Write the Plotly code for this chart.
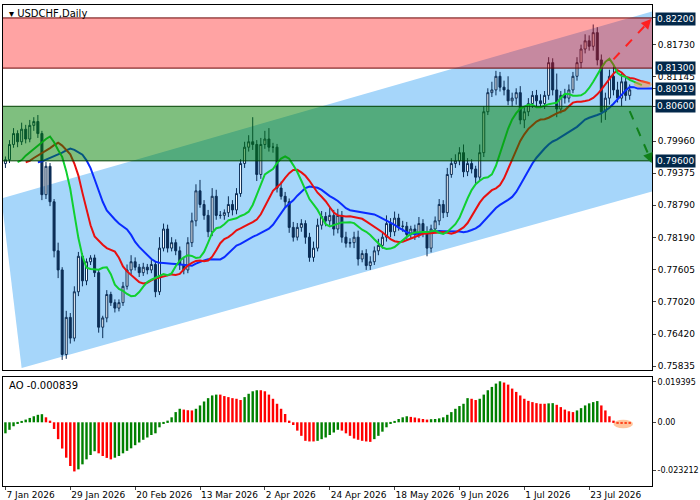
import plotly.graph_objects as go
from plotly.subplots import make_subplots

# USDCHF daily
closes = [
    0.7962, 0.7990, 0.8010, 0.7995, 0.8018, 0.8000, 0.8025, 0.8032, 0.8010, 0.7898,
    0.7950, 0.7885, 0.7795, 0.7760, 0.7605, 0.7673, 0.7635, 0.7720, 0.7785, 0.7740,
    0.7775, 0.7782, 0.7755, 0.7655, 0.7672, 0.7715, 0.7700, 0.7690, 0.7700, 0.7730,
    0.7760, 0.7775, 0.7765, 0.7755, 0.7765, 0.7760, 0.7770, 0.7720, 0.7800, 0.7835,
    0.7800, 0.7810, 0.7795, 0.7770, 0.7760, 0.7810, 0.7850, 0.7905, 0.7880, 0.7860,
    0.7830, 0.7895, 0.7860, 0.7860, 0.7865, 0.7880, 0.7870, 0.7900, 0.7955, 0.7985,
    0.7995, 0.7990, 0.7935, 0.7990, 0.8000, 0.7985, 0.7985, 0.7910, 0.7895, 0.7885,
    0.7838, 0.7820, 0.7838, 0.7845, 0.7820, 0.7783, 0.7800, 0.7842, 0.7858, 0.7850,
    0.7860, 0.7835, 0.7860, 0.7820, 0.7809, 0.7810, 0.7820, 0.7780, 0.7790, 0.7768,
    0.7775, 0.7795, 0.7805, 0.7820, 0.7845, 0.7830, 0.7855, 0.7840, 0.7840, 0.7825,
    0.7835, 0.7825, 0.7845, 0.7830, 0.7800, 0.7835, 0.7850, 0.7880, 0.7865, 0.7935,
    0.7955, 0.7960, 0.7975, 0.7940, 0.7955, 0.7945, 0.7930, 0.7975, 0.8050, 0.8085,
    0.8090, 0.8115, 0.8095, 0.8090, 0.8070, 0.8075, 0.8085, 0.8035, 0.8050, 0.8065,
    0.8080, 0.8070, 0.8065, 0.8080, 0.8140, 0.8090, 0.8055, 0.8080, 0.8075, 0.8090,
    0.8115, 0.8140, 0.8165, 0.8180, 0.8170, 0.8195, 0.8145, 0.8050, 0.8075, 0.8115,
    0.8090, 0.8075, 0.8105, 0.8080, 0.8090,
]
first_open = 0.7955
# wick lengths above / below the body, in 1e-4
wick_up = [
    6, 8, 10, 6, 12, 8, 10, 8, 12, 5, 8, 6, 5, 15, 5, 12, 8, 10, 8, 6,
    6, 5, 6, 5, 4, 8, 5, 6, 6, 8, 10, 12, 8, 6, 8, 6, 8, 5, 20, 10,
    8, 10, 6, 8, 12, 10, 15, 12, 20, 8, 10, 15, 12, 8, 6, 15, 8, 10, 8, 10,
    12, 45, 8, 12, 15, 20, 8, 6, 12, 8, 6, 10, 8, 8, 6, 8, 12, 12, 10, 8,
    15, 10, 12, 8, 10, 8, 10, 12, 6, 8, 10, 8, 12, 8, 15, 10, 12, 8, 10, 8,
    6, 8, 12, 8, 10, 8, 8, 10, 8, 12, 10, 12, 10, 15, 10, 8, 6, 15, 10, 8,
    15, 10, 8, 12, 25, 10, 8, 12, 10, 10, 8, 10, 12, 8, 10, 8, 30, 8, 12, 10,
    8, 10, 8, 12, 10, 15, 10, 10, 10, 12, 18, 15, 15, 8, 10,
]
wick_dn = [
    8, 6, 6, 10, 6, 8, 6, 10, 8, 10, 8, 8, 12, 15, 10, 8, 10, 6, 8, 10,
    8, 6, 8, 10, 20, 8, 6, 8, 6, 6, 6, 8, 6, 8, 6, 8, 6, 10, 6, 6,
    8, 6, 8, 10, 8, 6, 8, 10, 6, 8, 10, 8, 8, 6, 8, 8, 10, 8, 6, 8,
    8, 10, 12, 8, 8, 8, 10, 8, 6, 10, 10, 8, 6, 8, 12, 8, 8, 6, 8, 10,
    8, 12, 8, 10, 8, 8, 10, 12, 6, 8, 8, 6, 8, 6, 8, 10, 8, 8, 10, 8,
    8, 10, 6, 10, 15, 8, 6, 8, 10, 8, 6, 8, 8, 10, 8, 8, 12, 6, 8, 6,
    8, 10, 8, 10, 8, 10, 12, 8, 15, 8, 8, 10, 8, 10, 8, 10, 15, 8, 10, 8,
    6, 8, 10, 8, 8, 8, 10, 20, 15, 12, 10, 8, 15, 10, 8,
]
# Awesome Oscillator, in 1e-4
ao = [
    -53, -36, -19, -8, 5, 13, 21, 29, 36, 39,
    24, 8, -32, -81, -126, -170, -210, -236, -226, -202,
    -178, -157, -139, -149, -162, -171, -178, -170, -162, -149,
    -137, -125, -110, -97, -84, -73, -61, -53, -24, -8,
    8, 24, 49, 65, 61, 58, 57, 65, 81, 100,
    116, 129, 133, 133, 126, 121, 116, 113, 107, 121,
    137, 149, 154, 154, 149, 133, 113, 89, 65, 40,
    8, -13, -40, -65, -89, -92, -92, -89, -81, -73,
    -61, -49, -36, -40, -53, -65, -78, -84, -89, -92,
    -94, -81, -65, -45, -24, -8, 3, 16, 24, 29,
    26, 23, 19, 16, 13, 15, 16, 19, 24, 36,
    49, 65, 78, 89, 116, 113, 107, 113, 133, 154,
    170, 186, 197, 191, 181, 162, 146, 129, 113, 103,
    97, 92, 89, 89, 91, 92, 84, 73, 61, 53,
    49, 57, 68, 81, 91, 97, 102, 81, 57, 29,
    8, -5, -8, -8, -8,
]
date_labels = ["7 Jan 2026", "29 Jan 2026", "20 Feb 2026", "13 Mar 2026", "2 Apr 2026",
               "24 Apr 2026", "18 May 2026", "9 Jun 2026", "1 Jul 2026", "23 Jul 2026"]
date_idx = [0, 16, 32, 48, 64, 80, 96, 112, 128, 144]

price_ticks = [0.82220, 0.81730, 0.81145, 0.80919, 0.80600, 0.79960, 0.79375, 0.78790,
               0.78190, 0.77605, 0.77020, 0.76420, 0.75835]
marked_levels = [0.82200, 0.81300, 0.80919, 0.80600, 0.79600]
resistance_zone = (0.8130, 0.8222)
support_zone = (0.7960, 0.8060)

n = len(closes)
x = list(range(n))
opens = [first_open] + closes[:-1]
highs = [max(o, c) + u * 1e-4 for o, c, u in zip(opens, closes, wick_up)]
lows = [min(o, c) - d * 1e-4 for o, c, d in zip(opens, closes, wick_dn)]
median = [(h + l) / 2 for h, l in zip(highs, lows)]


def smma(vals, period):
    out = [vals[0]]
    for v in vals[1:]:
        out.append((out[-1] * (period - 1) + v) / period)
    return out


fig = make_subplots(rows=2, cols=1, shared_xaxes=True, row_heights=[0.77, 0.23],
                    vertical_spacing=0.014)

navy = "#0b2d55"
fig.add_trace(go.Candlestick(
    x=x, open=opens, high=highs, low=lows, close=closes,
    increasing=dict(line=dict(color=navy, width=1), fillcolor="white"),
    decreasing=dict(line=dict(color=navy, width=1), fillcolor=navy),
    whiskerwidth=0, showlegend=False, hoverinfo="skip"), row=1, col=1)

for period, shift, color in [(13, 8, "#0a2cff"), (8, 5, "#e81010"), (5, 3, "#10d030")]:
    line = smma(median, period)
    fig.add_trace(go.Scatter(x=[i + shift for i in x], y=line, mode="lines",
                             line=dict(color=color, width=2), showlegend=False,
                             hoverinfo="skip"), row=1, col=1)

ao_vals = [v * 1e-4 for v in ao]
ao_cols = ["#008000" if i == 0 or ao_vals[i] > ao_vals[i - 1] else "#ff0000"
           for i in range(n)]
fig.add_trace(go.Bar(x=x, y=ao_vals, marker=dict(color=ao_cols, line_width=0),
                     width=0.6, showlegend=False, hoverinfo="skip"), row=2, col=1)

# channel, zones, arrows
fig.add_shape(type="path", path="M -1,0.7891 L 160,0.8235 L 160,0.7905 L 4,0.7580 Z",
              fillcolor="#a6d6fa", line_width=0, layer="below", xref="x", yref="y")
fig.add_shape(type="rect", x0=-1, x1=160, y0=resistance_zone[0], y1=resistance_zone[1],
              fillcolor="rgba(255,0,0,0.36)", line=dict(color="#6a0000", width=1),
              layer="above", xref="x", yref="y")
fig.add_shape(type="rect", x0=-1, x1=160, y0=support_zone[0], y1=support_zone[1],
              fillcolor="rgba(0,128,0,0.5)", line=dict(color="#004000", width=1),
              layer="above", xref="x", yref="y")
fig.add_shape(type="line", x0=150, y0=0.8146, x1=157.8, y1=0.8208,
              line=dict(color="#ff2020", width=2, dash="dash"), xref="x", yref="y")
fig.add_annotation(x=159.3, y=0.8220, ax=157.6, ay=0.8206, axref="x", ayref="y",
                   xref="x", yref="y", showarrow=True, arrowhead=2, arrowsize=1,
                   arrowwidth=2, arrowcolor="#ff2020", text="")
fig.add_shape(type="line", x0=154, y0=0.8051, x1=158.6, y1=0.7972,
              line=dict(color="#10801a", width=2, dash="dash"), xref="x", yref="y")
fig.add_annotation(x=159.4, y=0.7956, ax=158.4, ay=0.7975, axref="x", ayref="y",
                   xref="x", yref="y", showarrow=True, arrowhead=2, arrowsize=1,
                   arrowwidth=2, arrowcolor="#10801a", text="")
fig.add_shape(type="circle", x0=155, x1=159.5, y0=0.8094, y1=0.8107,
              fillcolor="rgba(255,140,60,0.5)", line_width=0, xref="x", yref="y")
fig.add_shape(type="circle", x0=150, x1=154.8, y0=-0.0028, y1=0.0012,
              fillcolor="rgba(255,140,60,0.5)", line_width=0, xref="x2", yref="y2")

for lv in marked_levels:
    fig.add_annotation(x=1, xref="paper", y=lv, yref="y", xanchor="left", xshift=3,
                       text="%.5f" % lv, showarrow=False, bgcolor="#02284a",
                       font=dict(color="white", size=9, family="DejaVu Sans"),
                       borderpad=1)

fig.add_annotation(x=0, xref="paper", y=1, yref="paper", xanchor="left", yanchor="top",
                   xshift=4, yshift=-1, text="▾ USDCHF,Daily", showarrow=False,
                   font=dict(size=10, color="black", family="DejaVu Sans"))
fig.add_annotation(x=0, xref="paper", y=0.225, yref="paper", xanchor="left", yanchor="top",
                   xshift=4, text="AO -0.000839", showarrow=False,
                   font=dict(size=10, color="black", family="DejaVu Sans"))

axis_style = dict(showline=True, linecolor="black", linewidth=1, mirror=True,
                  showgrid=False, zeroline=False, automargin=False)
fig.update_xaxes(range=[-0.6, 159.5], rangeslider_visible=False, **axis_style)
fig.update_xaxes(showticklabels=False, ticks="", row=1, col=1)
fig.update_xaxes(tickvals=date_idx, ticktext=date_labels, ticks="outside", ticklen=3,
                 ticklabelposition="outside right", tickangle=0,
                 tickfont=dict(size=9, color="black"), row=2, col=1)
fig.update_yaxes(side="right", range=[0.75762, 0.82457], tickvals=price_ticks,
                 ticktext=["%.5f" % t for t in price_ticks], ticks="outside", ticklen=3,
                 tickfont=dict(size=9, color="black"), row=1, col=1, **axis_style)
fig.update_yaxes(side="right", range=[-0.0306, 0.0218], tickvals=[0.019395, 0, -0.023212],
                 ticktext=["0.019395", "0.00", "-0.023212"], ticks="outside", ticklen=3,
                 tickfont=dict(size=8, color="black"), row=2, col=1, **axis_style)

fig.update_layout(width=700, height=500, margin=dict(l=3, r=48, t=5, b=14),
                  paper_bgcolor="white", plot_bgcolor="white", bargap=0.3,
                  font=dict(family="DejaVu Sans", size=10))
fig.write_html("out.html", config={"displayModeBar": False})

# drop the page's default body margin so the 700x500 figure fits the window
with open("out.html", encoding="utf-8") as f:
    page = f.read()
page = page.replace("<body>", '<body style="margin:0;overflow:hidden">', 1)
with open("out.html", "w", encoding="utf-8") as f:
    f.write(page)
